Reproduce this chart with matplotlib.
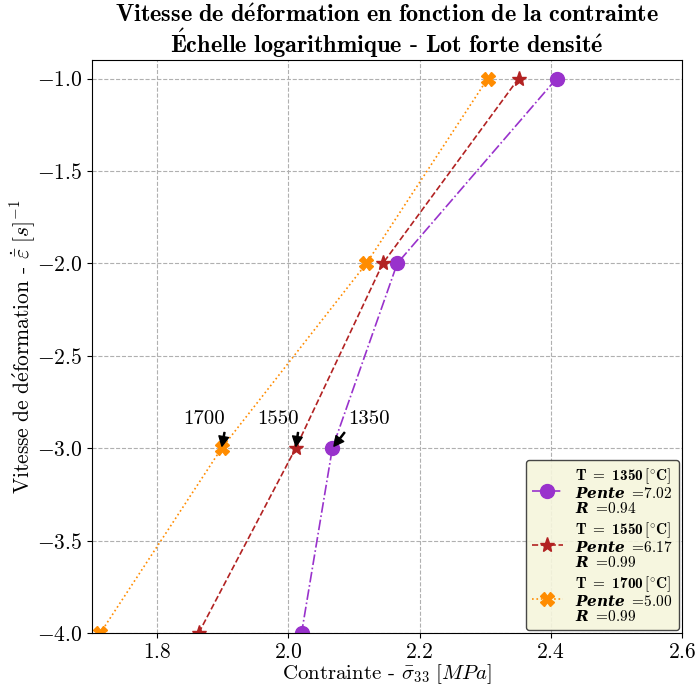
import matplotlib
matplotlib.use("Agg")
import matplotlib.pyplot as plt

plt.rcParams['font.family'] = 'serif'
plt.rcParams['font.serif'] = ['cmr10', 'DejaVu Serif']
plt.rcParams['mathtext.fontset'] = 'custom'
plt.rcParams['mathtext.rm'] = 'cmr10'
plt.rcParams['mathtext.it'] = 'cmmi10'
plt.rcParams['mathtext.bf'] = 'cmb10'
plt.rcParams['mathtext.bfit'] = 'DejaVu Serif:italic:bold'
plt.rcParams['mathtext.cal'] = 'cmsy10'
plt.rcParams['mathtext.fallback'] = 'cm'
plt.rcParams['axes.formatter.use_mathtext'] = True
plt.rcParams['axes.unicode_minus'] = True

# log10 of strain rate, one level per test
log_rate = [-1, -2, -3, -4]

temperatures = [1350, 1550, 1700]
stress_1350 = [2.409, 2.166, 2.067, 2.020]
stress_1550 = [2.351, 2.144, 2.011, 1.863]
stress_1700 = [2.304, 2.119, 1.898, 1.713]
slopes = [7.02, 6.17, 5.00]
r_values = [0.94, 0.99, 0.99]

colors = ['darkorchid', 'firebrick', 'darkorange']
styles = ['-.', '--', ':']
markers = ['o', '*', 'X']
msizes = [10, 11, 10]

fig = plt.figure(figsize=(6.95, 6.86), dpi=100)
ax = fig.add_axes([0.132, 0.077, 0.849, 0.8355])

series = [stress_1350, stress_1550, stress_1700]
for T, xs, p, r, c, ls, m, ms in zip(temperatures, series, slopes, r_values,
                                    colors, styles, markers, msizes):
    lab = (r"$\mathbf{T}\ {=}\ \mathbf{%d}\,[^{\circ}\mathbf{C}]$" % T + "\n"
           + r"$\mathbfit{Pente}\ {=}\!\mathrm{%.2f}$" % p + "\n"
           + r"$\mathbfit{R}\ {=}\!\mathrm{%.2f}$" % r)
    ax.plot(xs, log_rate, linestyle=ls, color=c, marker=m, markersize=ms,
            linewidth=1.2, label=lab)

# temperature labels next to the -3 points
offsets = [0.056, -0.027, -0.026]
for T, xs, dx in zip(temperatures, series, offsets):
    ax.annotate(str(T), xy=(xs[2], log_rate[2]), xytext=(xs[2] + dx, -2.84),
                ha='center', va='center', fontsize=15,
                arrowprops=dict(facecolor='black', width=0.8, headwidth=7,
                                headlength=7, shrink=0.1))

ax.set_xlim(1.7, 2.6)
ax.set_ylim(-4, -0.9)
ax.set_xticks([1.8, 2.0, 2.2, 2.4, 2.6])
ax.set_yticks([-4.0, -3.5, -3.0, -2.5, -2.0, -1.5, -1.0])
ax.tick_params(labelsize=15.5)
ax.grid(True, linestyle='--', color='#b0b0b0', linewidth=0.8)

ax.set_xlabel(r"$\mathrm{Contrainte}$ - $\bar{\sigma}_{33}\ [MPa]$", fontsize=15,
              labelpad=0)
ax.set_ylabel(r"$\mathrm{Vitesse\ de\ d\acute{e}formation}$ - $\dot{\bar{\varepsilon}}\ [s]^{-1}$",
              fontsize=15.5, labelpad=-1)
ax.set_title(r"$\mathbf{Vitesse\ de\ d\acute{e}formation\ en\ fonction\ de\ la\ contrainte}$"
             + "\n" + r"$\mathbf{\acute{E}chelle\ logarithmique}$ - $\mathbf{Lot\ forte\ densit\acute{e}}$",
             fontsize=17.5, fontweight='bold', pad=4, linespacing=0.98)

leg = ax.legend(loc='lower right', fontsize=11, facecolor='beige',
                edgecolor='#333333', framealpha=0.9, borderaxespad=0.2,
                labelspacing=0.3, handlelength=2.0, borderpad=0.4)
for t in leg.get_texts():
    t.set_linespacing(1.0)

fig.savefig("out.png", dpi=100)
